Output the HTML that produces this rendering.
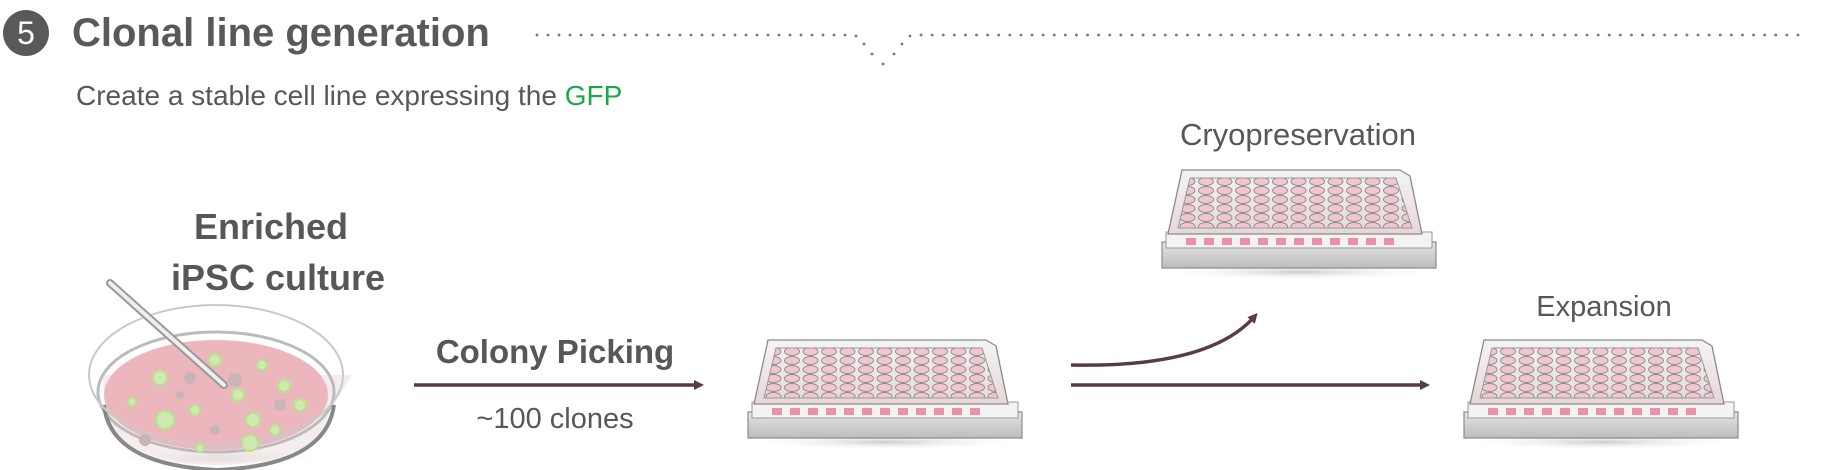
<!DOCTYPE html>
<html><head><meta charset="utf-8"><style>
body{margin:0;width:1829px;height:470px;background:#fff;position:relative;overflow:hidden;font-family:"Liberation Sans",sans-serif;color:#575757}
.t{position:absolute;white-space:nowrap}
</style></head><body>
<svg width="1829" height="470" style="position:absolute;left:0;top:0">
<defs>
<linearGradient id="base" x1="0" y1="0" x2="0" y2="1"><stop offset="0" stop-color="#e4e4e4"/><stop offset="1" stop-color="#bdbdbd"/></linearGradient>
<linearGradient id="topg" x1="0" y1="0" x2="0" y2="1"><stop offset="0" stop-color="#f4f4f4"/><stop offset="1" stop-color="#e6d6d9"/></linearGradient>
<pattern id="wells" x="0" y="0" width="18.5" height="9" patternUnits="userSpaceOnUse">
<ellipse cx="9" cy="4.5" rx="7.5" ry="4" fill="#f2c6cf" stroke="#8a8a8a" stroke-width="0.9"/>
</pattern>
<radialGradient id="shadow"><stop offset="0" stop-color="#999" stop-opacity=".5"/><stop offset="1" stop-color="#fff" stop-opacity="0"/></radialGradient>
<g id="plate">
<ellipse cx="140" cy="104" rx="145" ry="8" fill="url(#shadow)"/>
<path d="M2 74 L276 74 L276 100 L2 100 Z" fill="url(#base)" stroke="#8c8c8c" stroke-width="1.2"/>
<path d="M6 64 L272 64 L272 80 L6 80 Z" fill="#f3f3f3" stroke="#9a9a9a" stroke-width="1"/>
<g fill="#ef8fa5"><rect x="26" y="70" width="10" height="7"/><rect x="44" y="70" width="10" height="7"/><rect x="62" y="70" width="10" height="7"/><rect x="80" y="70" width="10" height="7"/><rect x="98" y="70" width="10" height="7"/><rect x="116" y="70" width="10" height="7"/><rect x="134" y="70" width="10" height="7"/><rect x="152" y="70" width="10" height="7"/><rect x="170" y="70" width="10" height="7"/><rect x="188" y="70" width="10" height="7"/><rect x="206" y="70" width="10" height="7"/><rect x="224" y="70" width="10" height="7"/></g>
<path d="M22 2 L240 2 L250 8 L262 66 L8 66 Z" fill="url(#topg)" stroke="#8a8a8a" stroke-width="1.3"/>
<path d="M30 10 L236 10 L252 60 L18 60 Z" fill="url(#wells)" stroke="#999" stroke-width="1"/>
</g>
<marker id="ah" markerWidth="10" markerHeight="10" refX="6" refY="5" orient="auto" markerUnits="userSpaceOnUse"><path d="M0 0 L10 5 L0 10 Z" fill="#5a3a48"/></marker>
</defs>
<circle cx="26" cy="33" r="23" fill="#595959"/>
<g fill="#777">
<circle cx="537" cy="35" r="1.4"/><circle cx="548" cy="35" r="1.4"/><circle cx="559" cy="35" r="1.4"/><circle cx="570" cy="35" r="1.4"/><circle cx="581" cy="35" r="1.4"/><circle cx="592" cy="35" r="1.4"/><circle cx="603" cy="35" r="1.4"/><circle cx="614" cy="35" r="1.4"/><circle cx="625" cy="35" r="1.4"/><circle cx="636" cy="35" r="1.4"/><circle cx="647" cy="35" r="1.4"/><circle cx="658" cy="35" r="1.4"/><circle cx="669" cy="35" r="1.4"/><circle cx="680" cy="35" r="1.4"/><circle cx="691" cy="35" r="1.4"/><circle cx="702" cy="35" r="1.4"/><circle cx="713" cy="35" r="1.4"/><circle cx="724" cy="35" r="1.4"/><circle cx="735" cy="35" r="1.4"/><circle cx="746" cy="35" r="1.4"/><circle cx="757" cy="35" r="1.4"/><circle cx="768" cy="35" r="1.4"/><circle cx="779" cy="35" r="1.4"/><circle cx="790" cy="35" r="1.4"/><circle cx="801" cy="35" r="1.4"/><circle cx="812" cy="35" r="1.4"/><circle cx="823" cy="35" r="1.4"/><circle cx="834" cy="35" r="1.4"/><circle cx="845" cy="35" r="1.4"/><circle cx="856" cy="36" r="1.4"/>
<circle cx="864" cy="44" r="1.4"/><circle cx="872" cy="54" r="1.4"/><circle cx="883" cy="64" r="1.4"/><circle cx="894" cy="54" r="1.4"/><circle cx="902" cy="44" r="1.4"/><circle cx="910" cy="36" r="1.4"/>
</g>
<line x1="921" y1="35" x2="1800" y2="35" stroke="#777" stroke-width="2.8" stroke-dasharray="0.1 11" stroke-linecap="round"/>
<ellipse cx="218" cy="458" rx="110" ry="10" fill="url(#shadow)"/>
<path d="M102 375 L106 410 Q115 462 218 465 Q322 462 330 410 L352 375 Z" fill="#f1e4e6" opacity=".7"/>
<ellipse cx="216" cy="395" rx="112" ry="55" fill="#ebb7bd"/>
<ellipse cx="216" cy="392" rx="118" ry="60" fill="none" stroke="#bbb" stroke-width="3"/>
<path d="M104 405 Q110 465 218 470 Q326 465 334 405" fill="none" stroke="#888" stroke-width="4"/>
<ellipse cx="216" cy="375" rx="127" ry="70" fill="none" stroke="#c9c9c9" stroke-width="2"/>
<g fill="#cfe9b0" stroke="#b9e38a" stroke-width="2">
<circle cx="160" cy="378" r="7"/><circle cx="215" cy="360" r="6"/><circle cx="262" cy="365" r="5"/><circle cx="165" cy="420" r="9"/><circle cx="253" cy="420" r="7"/><circle cx="284" cy="386" r="6"/><circle cx="195" cy="410" r="5"/><circle cx="300" cy="405" r="6"/><circle cx="238" cy="395" r="6"/><circle cx="250" cy="443" r="8"/><circle cx="200" cy="448" r="4"/><circle cx="275" cy="430" r="5"/><circle cx="132" cy="402" r="4"/>
</g>
<g fill="#c9b4b7"><circle cx="190" cy="378" r="6"/><circle cx="235" cy="380" r="7"/><circle cx="280" cy="405" r="6"/><circle cx="145" cy="440" r="6"/><circle cx="215" cy="430" r="5"/><circle cx="180" cy="395" r="4"/></g>
<line x1="110" y1="283" x2="224" y2="385" stroke="#999" stroke-width="8" stroke-linecap="round"/>
<line x1="110" y1="283" x2="224" y2="385" stroke="#eee" stroke-width="4" stroke-linecap="round"/>
<line x1="414" y1="385" x2="700" y2="385" stroke="#5a3a48" stroke-width="3.5" marker-end="url(#ah)"/>
<path d="M1071 365 Q1210 368 1255 316" fill="none" stroke="#5a3a48" stroke-width="3.5" marker-end="url(#ah)"/>
<line x1="1071" y1="385" x2="1426" y2="385" stroke="#5a3a48" stroke-width="3.5" marker-end="url(#ah)"/>
<use href="#plate" x="746" y="338"/>
<use href="#plate" x="1160" y="168"/>
<use href="#plate" x="1462" y="338"/>
</svg>
<div class="t" style="left:0;top:15px;width:52px;text-align:center;color:#fff;font-size:32px;line-height:36px">5</div>
<div class="t" style="left:72px;top:9px;font-size:40px;font-weight:bold;color:#595959;line-height:48px">Clonal line generation</div>
<div class="t" style="left:76px;top:79px;font-size:28px;line-height:34px">Create a stable cell line expressing the <span style="color:#1aa84a">GFP</span></div>
<div class="t" style="left:171px;top:201px;width:200px;text-align:center;font-size:36px;font-weight:bold;line-height:51px">Enriched<br>iPSC culture</div>
<div class="t" style="left:405px;top:332px;width:300px;text-align:center;font-size:33px;font-weight:bold;line-height:40px">Colony Picking</div>
<div class="t" style="left:405px;top:402px;width:300px;text-align:center;font-size:29px;line-height:34px">~100 clones</div>
<div class="t" style="left:1148px;top:117px;width:300px;text-align:center;font-size:31px;line-height:36px">Cryopreservation</div>
<div class="t" style="left:1454px;top:289px;width:300px;text-align:center;font-size:29px;line-height:36px">Expansion</div>
</body></html>
